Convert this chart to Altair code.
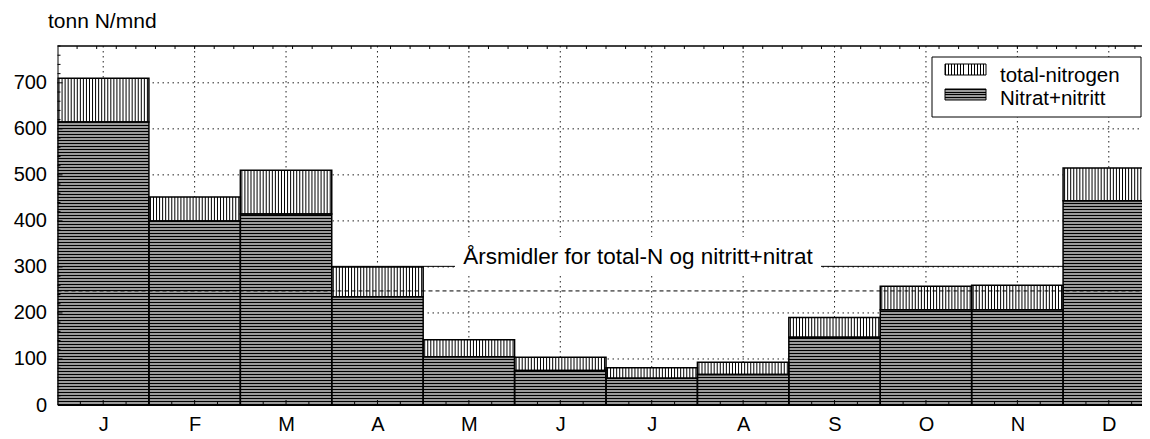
import json
import altair as alt
import pandas as pd

# ---------------- data ----------------
months = ["J", "F", "M", "A", "M", "J", "J", "A", "S", "O", "N", "D"]
total_n = [710, 452, 510, 300, 142, 104, 81, 93, 190, 258, 260, 515]
nitrat = [615, 400, 415, 235, 105, 75, 58, 66, 147, 207, 207, 444]
y_ticks = [0, 100, 200, 300, 400, 500, 600, 700]
y_title = "tonn N/mnd"
legend_labels = ["total-nitrogen", "Nitrat+nitritt"]
note = "Årsmidler for total-N og nitritt+nitrat"

# ---------------- layout ----------------
FONT = "Liberation Sans"
W = 1084.5          # visible plot width (plot continues past the right edge)
H = 359
FULLW = 1097.0
XMAX = 12 * W / FULLW
YMAX = 780
PX_PER_UNIT = H / YMAX
STRIPE = 3          # stripe period in px

xs = alt.Scale(domain=[0, XMAX], nice=False, zero=False)
ys = alt.Scale(domain=[0, YMAX], nice=False, zero=True)

bars = pd.DataFrame({
    "i": list(range(12)),
    "i1": [i + 1 for i in range(12)],
    "m": months,
    "total": total_n,
    "nitrat": nitrat,
    "zero": [0] * 12,
})

# hatch lines derived from the bar data
hrows = []
for i, n in enumerate(nitrat):
    k = 0
    while True:
        v = (k * STRIPE + 0.5) / PX_PER_UNIT
        if v >= n - 0.6 / PX_PER_UNIT:
            break
        hrows.append({"x": i, "x2": i + 1, "y": v})
        k += 1
hstripes = pd.DataFrame(hrows)

vrows = []
NV = 30
for i, (n, t) in enumerate(zip(nitrat, total_n)):
    for j in range(NV):
        vrows.append({"x": i + (j + 0.5) / NV, "y": n, "y2": t})
vstripes = pd.DataFrame(vrows)

centers = pd.DataFrame({"x": [i + 0.5 for i in range(12)]})
grid_y = pd.DataFrame({"y": y_ticks[1:]})
minor_y = pd.DataFrame({"y": [v for v in range(20, YMAX + 1, 20) if v % 100 != 0]})
major_y = pd.DataFrame({"y": y_ticks[1:]})
bottom_minor = pd.DataFrame({"x": [k * 0.25 for k in range(1, 48) if k % 4 != 2]})
top_ticks = pd.DataFrame({"x": [k * 12 / 56 for k in range(1, 56)]})

label_expr = json.dumps(months) + "[floor(datum.value)]"

DOT = [1.5, 3.5]

XAX = alt.Axis(
    values=[i + 0.5 for i in range(12)], labelExpr=label_expr, ticks=False, grid=False,
    domain=True, domainColor="black", domainWidth=1, labelFontSize=20, labelFont=FONT,
    labelColor="black", labelPadding=9, title=None, zindex=2)
YAX = alt.Axis(
    values=y_ticks, ticks=False, grid=False, domain=True, domainColor="black",
    domainWidth=1, labelFontSize=20, labelFont=FONT, labelColor="black",
    labelPadding=11, title=y_title, titleAngle=0, titleAlign="left",
    titleBaseline="middle", titleX=-10, titleY=-25, titleFontSize=21,
    titleFont=FONT, titleFontWeight="normal", titleColor="black", zindex=2)


def X(f):
    return alt.X(f, scale=xs, axis=XAX)


def Y(f):
    return alt.Y(f, scale=ys, axis=YAX)


# ---------------- layers ----------------
gh = alt.Chart(grid_y).mark_rule(color="#222", strokeWidth=1, strokeDash=DOT).encode(
    y=Y("y:Q"), x=alt.value(0), x2=alt.value(W))
gv = alt.Chart(centers).mark_rule(color="#222", strokeWidth=1, strokeDash=DOT).encode(
    x=X("x:Q"), y=alt.value(0), y2=alt.value(H))

mean_total = alt.Chart(bars).mark_rule(color="black", strokeWidth=1).encode(
    y=Y("mean(total):Q"), x=alt.value(0), x2=alt.value(W))

nit_fill = alt.Chart(bars).mark_rect(fill="#9a9a9a", clip=True).encode(
    x=X("i:Q"), x2="i1:Q", y=Y("nitrat:Q"), y2="zero:Q")
tot_fill = alt.Chart(bars).mark_rect(fill="white", clip=True).encode(
    x=X("i:Q"), x2="i1:Q", y=Y("nitrat:Q"), y2="total:Q")

hs = alt.Chart(hstripes).mark_rule(color="black", strokeWidth=1, clip=True).encode(
    x=X("x:Q"), x2="x2:Q", y=Y("y:Q"))
vs = alt.Chart(vstripes).mark_rule(color="black", strokeWidth=1, clip=True).encode(
    x=X("x:Q"), y=Y("y:Q"), y2="y2:Q")

nit_out = alt.Chart(bars).mark_rect(fill=None, stroke="black", strokeWidth=1.5, clip=True).encode(
    x=X("i:Q"), x2="i1:Q", y=Y("nitrat:Q"), y2="zero:Q")
tot_out = alt.Chart(bars).mark_rect(fill=None, stroke="black", strokeWidth=1.5, clip=True).encode(
    x=X("i:Q"), x2="i1:Q", y=Y("nitrat:Q"), y2="total:Q")

mean_nit = alt.Chart(bars).mark_rule(color="black", strokeWidth=1, strokeDash=[4, 3]).encode(
    y=Y("mean(nitrat):Q"), x=alt.value(0), x2=alt.value(W))

note_df = pd.DataFrame({"t": [note]})
note_bg = alt.Chart(note_df).mark_rect(fill="white").encode(
    x=alt.value(397.5), x2=alt.value(763.5), y=alt.value(191), y2=alt.value(227))
note_txt = alt.Chart(note_df).mark_text(
    font=FONT, fontSize=22.5, color="black", align="center", baseline="alphabetic").encode(
    x=alt.value(580.5), y=alt.value(218), text="t:N")


# legend
def stripes_gradient(n, horizontal, base):
    stops = []
    for k in range(n):
        a = k / n
        b = a + 1 / (3 * n)
        c = (k + 1) / n
        stops += [{"offset": a, "color": "black"}, {"offset": b, "color": "black"},
                  {"offset": b, "color": base}, {"offset": c, "color": base}]
    g = {"gradient": "linear", "stops": stops}
    if horizontal:
        g.update({"x1": 0, "y1": 0, "x2": 0, "y2": 1})
    else:
        g.update({"x1": 0, "y1": 0, "x2": 1, "y2": 0})
    return g


leg_df = pd.DataFrame({"label": legend_labels, "k": [0, 1]})
leg_box = alt.Chart(leg_df.head(1)).mark_rect(fill="white", stroke="black", strokeWidth=1).encode(
    x=alt.value(874.5), x2=alt.value(1083.5), y=alt.value(11), y2=alt.value(71))
sw1 = alt.Chart(leg_df.head(1)).mark_rect(stroke="black", strokeWidth=1).encode(
    x=alt.value(887.5), x2=alt.value(928.5), y=alt.value(18), y2=alt.value(29),
    fill=alt.value(stripes_gradient(14, False, "white")))
sw2 = alt.Chart(leg_df.head(1)).mark_rect(stroke="black", strokeWidth=1).encode(
    x=alt.value(887.5), x2=alt.value(928.5), y=alt.value(43), y2=alt.value(54),
    fill=alt.value(stripes_gradient(4, True, "#9a9a9a")))
lt1 = alt.Chart(leg_df[leg_df.k == 0]).mark_text(
    font=FONT, fontSize=20.5, color="black", align="left", baseline="alphabetic").encode(
    x=alt.value(942.5), y=alt.value(36), text="label:N")
lt2 = alt.Chart(leg_df[leg_df.k == 1]).mark_text(
    font=FONT, fontSize=20.5, color="black", align="left", baseline="alphabetic").encode(
    x=alt.value(942.5), y=alt.value(59), text="label:N")

# tick marks (inside)
lt_major = alt.Chart(major_y).mark_rule(color="black", strokeWidth=1).encode(
    y=Y("y:Q"), x=alt.value(0), x2=alt.value(5))
lt_minor = alt.Chart(minor_y).mark_rule(color="black", strokeWidth=1).encode(
    y=Y("y:Q"), x=alt.value(0), x2=alt.value(3))
bt_major = alt.Chart(centers).mark_rule(color="black", strokeWidth=1).encode(
    x=X("x:Q"), y=alt.value(H), y2=alt.value(H - 5))
bt_minor = alt.Chart(bottom_minor).mark_rule(color="black", strokeWidth=1).encode(
    x=X("x:Q"), y=alt.value(H), y2=alt.value(H - 3))
tt = alt.Chart(top_ticks).mark_rule(color="black", strokeWidth=1).encode(
    x=X("x:Q"), y=alt.value(0), y2=alt.value(3))
top_line = alt.Chart(centers.head(1)).mark_rule(color="black", strokeWidth=1.5).encode(
    x=alt.value(0), x2=alt.value(W), y=alt.value(0))

chart = alt.layer(
    gh, gv, mean_total, nit_fill, tot_fill, hs, vs, nit_out, tot_out, mean_nit,
    note_bg, note_txt, leg_box, sw1, sw2, lt1, lt2,
    lt_major, lt_minor, bt_major, bt_minor, tt, top_line,
).properties(
    width=W, height=H,
    autosize=alt.AutoSizeParams(type="none"),
    padding={"left": 49.5, "top": 38, "right": 0, "bottom": 32},
    background="white",
).configure_view(stroke=None)

chart.save("out.html", embed_options={"renderer": "svg", "actions": False})
